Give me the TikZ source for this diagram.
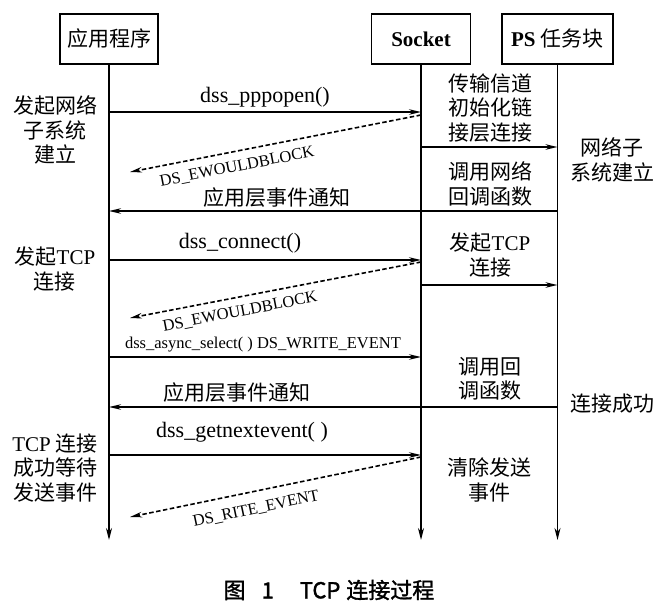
\documentclass[tikz,border=0pt]{standalone}
\usepackage{fontspec}
\setmainfont{Liberation Serif}
\newfontfamily\cjk{Noto Sans CJK SC}
\newfontfamily\capfont[FakeBold=1.5]{Noto Sans CJK SC}
\usetikzlibrary{arrows.meta}
\begin{document}
\begin{tikzpicture}[x=1pt,y=-1pt,
  lane/.style={draw,line width=1.6pt,minimum height=50pt,inner sep=0pt,font=\fontsize{21}{24}\selectfont},
  life/.style={line width=1.6pt,-{Stealth[length=12pt,width=6pt]}},
  msg/.style={line width=1.6pt,-{Stealth[length=12pt,width=5.5pt]}},
  reply/.style={msg,dash pattern=on 4.5pt off 2.5pt},
  zh/.style={font=\fontsize{21}{24.5}\selectfont\cjk,align=center,inner sep=0pt},
  lbl/.style={font=\fontsize{22}{24}\selectfont,inner sep=0pt},
  sm/.style={font=\fontsize{16.5}{18}\selectfont,inner sep=0pt}]
\useasboundingbox (0,0) rectangle (667,608);
% lanes
\node[lane,minimum width=98pt] (app) at (109,39) {\cjk 应用程序};
\node[lane,minimum width=99pt] (sock) at (421,39) {\bfseries Socket};
\node[lane,minimum width=111pt] (ps) at (557.5,39) {\textbf{PS} {\cjk 任务块}};
\coordinate (appE) at (109,540);
\coordinate (sockE) at (421,540);
\coordinate (psE) at (557.5,540);
\draw[life] (app.south) -- (appE);
\draw[life] (sock.south) -- (sockE);
\draw[life] (ps.south) -- (psE);
% message end points
\coordinate (a1) at (109,112);   \coordinate (s1) at (421,112);
\coordinate (s1r) at (421,115);  \coordinate (a1r) at (130,172);
\coordinate (s2) at (421,147);   \coordinate (p2) at (557.5,147);
\coordinate (p3) at (557.5,211); \coordinate (a3) at (109,211);
\coordinate (a4) at (109,260);   \coordinate (s4) at (421,260);
\coordinate (s4r) at (421,262);  \coordinate (a4r) at (130,318);
\coordinate (s5) at (421,285);   \coordinate (p5) at (557.5,285);
\coordinate (a6) at (109,357);   \coordinate (s6) at (421,357);
\coordinate (p7) at (557.5,407); \coordinate (a7) at (109,407);
\coordinate (a8) at (109,455);   \coordinate (s8) at (421,455);
\coordinate (s8r) at (421,457);  \coordinate (a8r) at (130,517);
% messages
\draw[msg] (a1) -- (s1);
\draw[reply] (s1r) -- (a1r);
\draw[msg] (s2) -- (p2);
\draw[msg] (p3) -- (a3);
\draw[msg] (a4) -- (s4);
\draw[reply] (s4r) -- (a4r);
\draw[msg] (s5) -- (p5);
\draw[msg] (a6) -- (s6);
\draw[msg] (p7) -- (a7);
\draw[msg] (a8) -- (s8);
\draw[reply] (s8r) -- (a8r);
% message labels
\node[lbl] (l1) at (265,97) {dss\_pppopen()};
\node[sm,rotate=11] (l2) at (237,167) {DS\_EWOULDBLOCK};
\node[zh] (l3) at (277,198) {应用层事件通知};
\node[lbl] (l4) at (240,243) {dss\_connect()};
\node[sm,rotate=11] (l5) at (240,312) {DS\_EWOULDBLOCK};
\node[sm] (l6) at (263,345) {dss\_async\_select( ) DS\_WRITE\_EVENT};
\node[zh] (l7) at (237,393) {应用层事件通知};
\node[lbl] (l8) at (242,432) {dss\_getnextevent( )};
\node[sm,rotate=12] (l9) at (256,509) {DS\_RITE\_EVENT};
% side notes
\node[zh] (n1) at (55,130) {发起网络\\子系统\\建立};
\node[zh] (n2) at (55,269) {发起{\rmfamily TCP}\\连接};
\node[zh] (n3) at (55,468) {{\rmfamily TCP} 连接\\成功等待\\发送事件};
\node[zh] (n4) at (490,108) {传输信道\\初始化链\\接层连接};
\node[zh] (n5) at (490,184) {调用网络\\回调函数};
\node[zh] (n6) at (612,160) {网络子\\系统建立};
\node[zh] (n7) at (490,255) {发起{\rmfamily TCP}\\连接};
\node[zh] (n8) at (490,379) {调用回\\调函数};
\node[zh] (n9) at (612,404) {连接成功};
\node[zh] (n10) at (489,480) {清除发送\\事件};
% caption
\node[font=\fontsize{22}{24}\selectfont\capfont,inner sep=0pt] (cap) at (329,590) {图\hspace{16pt}1\hspace{26pt}TCP\hspace{6pt}连接过程};
\end{tikzpicture}
\end{document}
